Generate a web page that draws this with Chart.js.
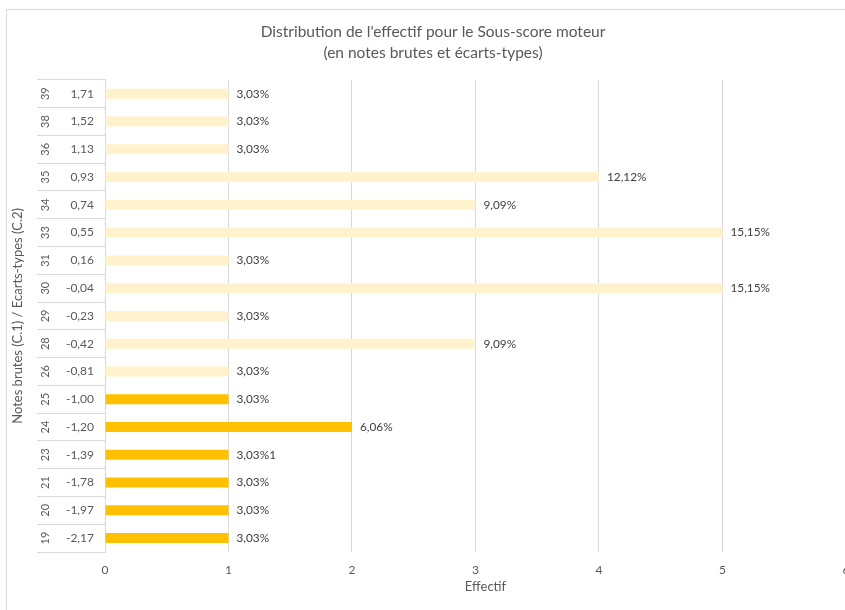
<!DOCTYPE html>
<html>
<head>
<meta charset="utf-8">
<script src="https://cdn.jsdelivr.net/npm/chart.js/dist/chart.umd.min.js"></script>
<style>
    body { margin: 0; overflow: hidden; background: #fff; }
</style>
</head>
<body>
<canvas id="myChart" width="866" height="610"></canvas>
<script>
    // Données
    const notesBrutes = [39, 38, 36, 35, 34, 33, 31, 30, 29, 28, 26, 25, 24, 23, 21, 20, 19];
    const ecartsTypes = ['1,71', '1,52', '1,13', '0,93', '0,74', '0,55', '0,16', '-0,04', '-0,23', '-0,42', '-0,81', '-1,00', '-1,20', '-1,39', '-1,78', '-1,97', '-2,17'];
    const effectif = [1, 1, 1, 4, 3, 5, 1, 5, 1, 3, 1, 1, 2, 1, 1, 1, 1];
    const pourcentages = ['3,03%', '3,03%', '3,03%', '12,12%', '9,09%', '15,15%', '3,03%', '15,15%', '3,03%', '9,09%', '3,03%', '3,03%', '6,06%', '3,03%1', '3,03%', '3,03%', '3,03%'];
    const sousSeuil = [false, false, false, false, false, false, false, false, false, false, false, true, true, true, true, true, true];

    const grisTexte = '#595959';
    const grisLigne = '#d9d9d9';
    Chart.defaults.font.family = 'Lato';
    Chart.defaults.color = grisTexte;

    // cadre, notes brutes tournées et étiquettes
    const extras = {
        id: 'extras',
        beforeDraw(chart) {
            const c = chart.ctx;
            c.save();
            c.strokeStyle = grisLigne;
            c.lineWidth = 1;
            c.beginPath();
            c.moveTo(6.5, 700);
            c.lineTo(6.5, 9.5);
            c.lineTo(900, 9.5);
            c.stroke();
            c.restore();
        },
        afterDraw(chart) {
            const c = chart.ctx;
            const yScale = chart.scales.y;
            c.save();
            c.fillStyle = grisTexte;
            c.font = '11px Lato';
            c.textAlign = 'center';
            c.textBaseline = 'middle';
            notesBrutes.forEach((n, i) => {
                const y = yScale.getPixelForValue(i);
                c.save();
                c.translate(45, y);
                c.rotate(-Math.PI / 2);
                c.fillText(String(n), 0, 0);
                c.restore();
            });
            c.fillStyle = '#404040';
            c.font = '11.8px Lato';
            c.textAlign = 'left';
            const meta = chart.getDatasetMeta(0);
            meta.data.forEach((bar, i) => {
                c.fillText(pourcentages[i], bar.x + 8, bar.y);
            });
            c.restore();
        }
    };

    const ctx = document.getElementById('myChart').getContext('2d');
    const myChart = new Chart(ctx, {
        type: 'bar',
        data: {
            labels: ecartsTypes,
            datasets: [{
                label: 'Effectif',
                data: effectif,
                backgroundColor: sousSeuil.map(s => s ? '#FFC000' : '#FFF2CC'),
                categoryPercentage: 1,
                barPercentage: 0.36
            }]
        },
        plugins: [extras],
        options: {
            indexAxis: 'y',
            responsive: false,
            animation: false,
            layout: { padding: 0 },
            plugins: {
                legend: { display: false },
                tooltip: { enabled: false },
                title: {
                    display: true,
                    text: ["Distribution de l'effectif pour le Sous-score moteur", '(en notes brutes et écarts-types)'],
                    color: grisTexte,
                    font: { size: 15.5, weight: 'normal', lineHeight: 1.35 },
                    padding: { top: 22, bottom: 16 }
                }
            },
            scales: {
                x: {
                    min: 0,
                    max: 6.162,
                    afterFit(scale) { scale.height = 58; },
                    ticks: { stepSize: 1, includeBounds: false, padding: 11, font: { size: 12 } },
                    grid: { color: grisLigne, drawTicks: false },
                    border: { display: false },
                    title: {
                        display: true,
                        text: 'Effectif',
                        font: { size: 13 },
                        padding: { top: 3, bottom: 15 }
                    }
                },
                y: {
                    afterFit(scale) { scale.width = 105; },
                    ticks: { padding: -57, font: { size: 12 } },
                    grid: { drawOnChartArea: false, drawTicks: true, tickLength: 68, color: grisLigne },
                    border: { color: grisLigne },
                    title: {
                        display: true,
                        text: 'Notes brutes (C.1) / Ecarts-types (C.2)',
                        font: { size: 13 },
                        padding: { top: 10, bottom: 0 }
                    }
                }
            }
        }
    });
</script>
</body>
</html>
